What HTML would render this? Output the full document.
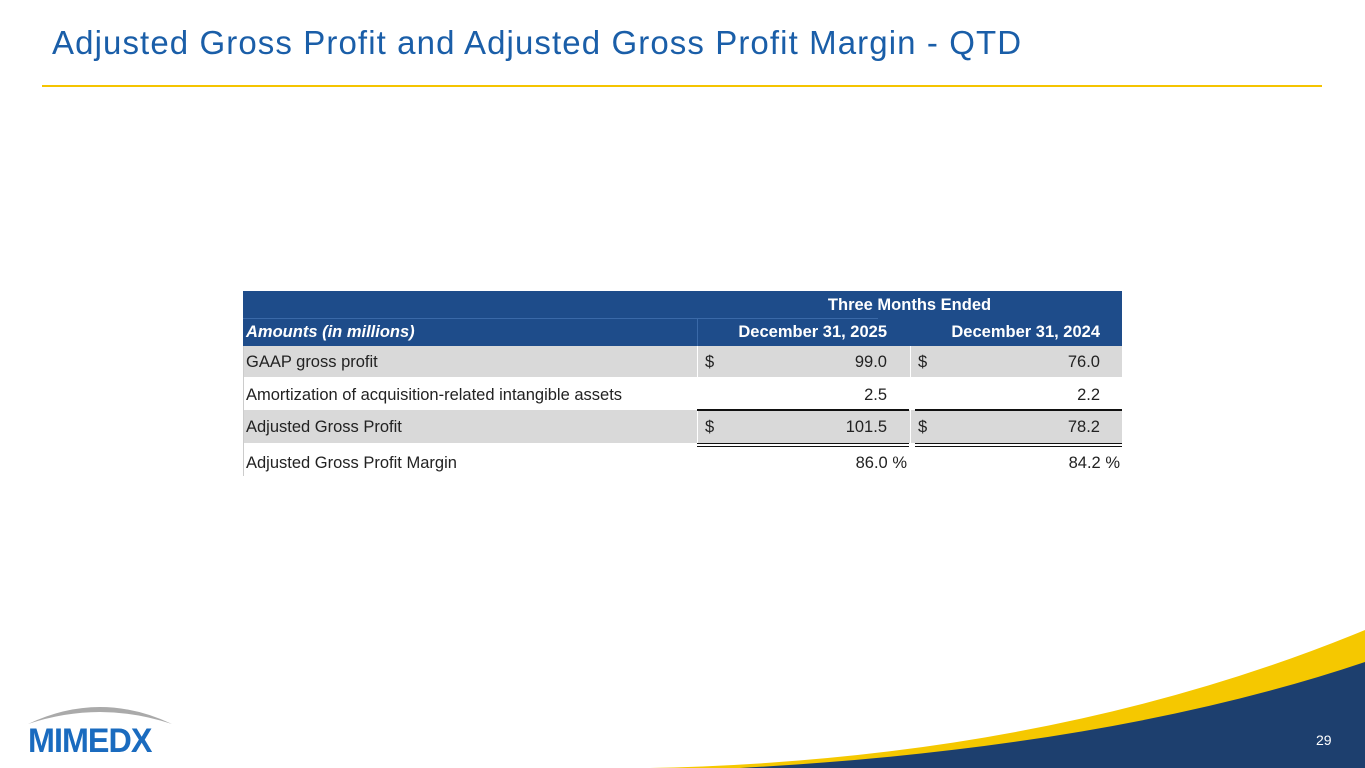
<!DOCTYPE html>
<html><head><meta charset="utf-8"><style>
body{margin:0;width:1365px;height:768px;position:relative;background:#fff;font-family:"Liberation Sans",sans-serif;overflow:hidden}
.t{position:absolute;left:52px;top:24px;font-size:33px;letter-spacing:1.1px;color:#1a5ea8;white-space:nowrap}
.rule{position:absolute;left:42px;top:85px;width:1280px;height:2px;background:#f5c400}
.c{position:absolute;font-size:16.5px;color:#222;white-space:nowrap;line-height:32px}
.r{text-align:right}
.hd{position:absolute;background:#1e4c8a}
.w{color:#fff;font-weight:bold}
</style></head><body>
<div class="t">Adjusted Gross Profit and Adjusted Gross Profit Margin - QTD</div>
<div class="rule"></div>

<div>
<div class="hd" style="left:243px;top:291px;width:879px;height:55px"></div>
<div style="position:absolute;left:243px;top:318px;width:635px;height:1px;background:#3a69a8"></div>
<div style="position:absolute;left:697px;top:318px;width:1px;height:28px;background:#3a69a8"></div>
<div class="c w" style="left:697px;top:290px;width:425px;text-align:center;line-height:30px">Three Months Ended</div>
<div class="c w" style="left:246px;top:316px;font-style:italic">Amounts (in millions)</div>
<div class="c w r" style="left:697px;top:316px;width:190px">December 31, 2025</div>
<div class="c w r" style="left:910px;top:316px;width:190px">December 31, 2024</div>

<div style="position:absolute;left:243px;top:346px;width:879px;height:31px;background:#d9d9d9"></div>
<div style="position:absolute;left:243px;top:410px;width:879px;height:33px;background:#d9d9d9"></div>
<div style="position:absolute;left:697px;top:346px;width:1px;height:31px;background:#fff"></div>
<div style="position:absolute;left:910px;top:346px;width:1px;height:31px;background:#fff"></div>
<div style="position:absolute;left:697px;top:410px;width:1px;height:33px;background:#fff"></div>
<div style="position:absolute;left:910px;top:410px;width:1px;height:33px;background:#fff"></div>
<div style="position:absolute;left:243px;top:346px;width:1px;height:130px;background:#ccc"></div>

<div class="c" style="left:246px;top:346px">GAAP gross profit</div>
<div class="c" style="left:705px;top:346px">$</div>
<div class="c r" style="left:780px;top:346px;width:107px">99.0</div>
<div class="c" style="left:918px;top:346px">$</div>
<div class="c r" style="left:990px;top:346px;width:110px">76.0</div>

<div class="c" style="left:246px;top:379px">Amortization of acquisition-related intangible assets</div>
<div class="c r" style="left:780px;top:379px;width:107px">2.5</div>
<div class="c r" style="left:990px;top:379px;width:110px">2.2</div>
<div style="position:absolute;left:697px;top:409px;width:212px;height:2px;background:#111"></div>
<div style="position:absolute;left:915px;top:409px;width:207px;height:2px;background:#111"></div>

<div class="c" style="left:246px;top:411px">Adjusted Gross Profit</div>
<div class="c" style="left:705px;top:411px">$</div>
<div class="c r" style="left:780px;top:411px;width:107px">101.5</div>
<div class="c" style="left:918px;top:411px">$</div>
<div class="c r" style="left:990px;top:411px;width:110px">78.2</div>
<div style="position:absolute;left:697px;top:443px;width:212px;height:1px;background:#111;box-shadow:0 3px 0 #111"></div>
<div style="position:absolute;left:915px;top:443px;width:207px;height:1px;background:#111;box-shadow:0 3px 0 #111"></div>

<div class="c" style="left:246px;top:447px">Adjusted Gross Profit Margin</div>
<div class="c r" style="left:780px;top:447px;width:127px">86.0 %</div>
<div class="c r" style="left:990px;top:447px;width:130px">84.2 %</div>
</div>

<svg style="position:absolute;left:0;top:0" width="1365" height="768">
<path d="M650 768 Q1050 760 1365 630 L1365 768 Z" fill="#f5c800"/>
<path d="M740 768 Q1110 748 1365 662 L1365 768 Z" fill="#1d3f6e"/>
<path d="M28 724 Q100 690 172 724 Q100 700 28 724 Z" fill="#aaa"/>
</svg>
<div style="position:absolute;left:28px;top:722px;font-size:34px;font-weight:bold;color:#1a6bbf;letter-spacing:-1px;transform:scaleX(0.95);transform-origin:left">MIMEDX</div>
<div style="position:absolute;left:1316px;top:732px;font-size:14px;color:#fff">29</div>
</body></html>
